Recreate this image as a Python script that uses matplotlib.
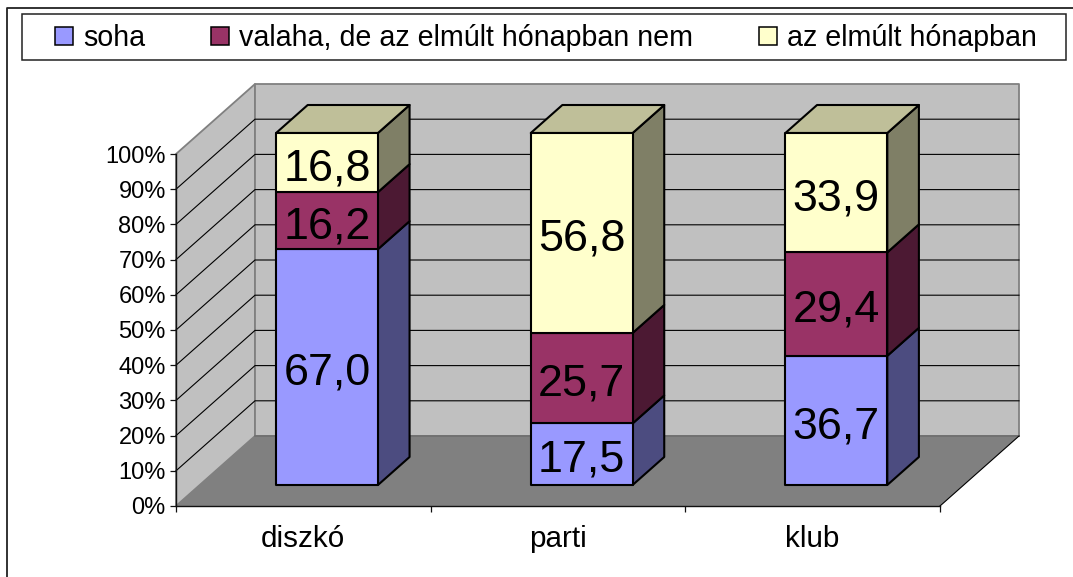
import numpy as np
import matplotlib
matplotlib.use('Agg')
import matplotlib.pyplot as plt
from matplotlib.lines import Line2D
from matplotlib.patches import Patch, Polygon, Rectangle

plt.rcParams['font.family'] = ['Liberation Sans', 'DejaVu Sans']

# data
categories = ['diszkó', 'parti', 'klub']
series_names = ['soha', 'valaha, de az elmúlt hónapban nem', 'az elmúlt hónapban']
soha = [67.0, 17.5, 36.7]
valaha = [16.2, 25.7, 29.4]
elmult = [16.8, 56.8, 33.9]
y_ticks = [0, 10, 20, 30, 40, 50, 60, 70, 80, 90, 100]

# colours: front, side, top
colors = ['#9999FF', '#993366', '#FFFFCC']
side_colors = ['#4C4C80', '#4C1933', '#7F7F66']
top_colors = ['#4C4C80', '#73264D', '#BFBF99']

W, H = 1073, 577
DEPTH_X = 79 / 254.67  # full chart depth, in category units
DEPTH_Y = 70 / 3.52    # full chart depth, in percent
BAR_HALF = 0.2
BAR_D0, BAR_D1 = 0.3, 0.7
WALL = '#C0C0C0'
EDGE = '#808080'


def proj(x, y, d):
    """shear a point (x, y) at depth d (0 front, 1 back) onto the plot plane"""
    return x + d * DEPTH_X, y + d * DEPTH_Y


def poly(ax, pts, **kw):
    p = Polygon([proj(*q) for q in pts], closed=True, clip_on=False, joinstyle='round', **kw)
    ax.add_patch(p)
    return p


fig = plt.figure(figsize=(W / 100, H / 100), dpi=100)
ax = fig.add_axes([176 / W, (H - 506) / H, 764 / W, 352 / H])
ax.set_xlim(0, 3)
ax.set_ylim(0, 100)
ax.patch.set_visible(False)

# walls and floor
poly(ax, [(0, 0, 0), (0, 100, 0), (0, 100, 1), (0, 0, 1)], facecolor=WALL, edgecolor=EDGE, linewidth=1.3, zorder=1)
poly(ax, [(0, 0, 1), (0, 100, 1), (3, 100, 1), (3, 0, 1)], facecolor=WALL, edgecolor=EDGE, linewidth=1.3, zorder=1)
poly(ax, [(0, 0, 0), (3, 0, 0), (3, 0, 1), (0, 0, 1)], facecolor='#808080', edgecolor='none', zorder=1.5)
ax.add_line(Line2D(*zip(proj(0, 0, 1), proj(3, 0, 1)), color='#6E6E6E', lw=1.2, clip_on=False, zorder=1.6))
ax.add_line(Line2D(*zip(proj(3, 0, 0), proj(3, 0, 1)), color='black', lw=0.8, clip_on=False, zorder=1.6))

# gridlines on the walls
for t in y_ticks[1:-1]:
    pts = [proj(0, t, 0), proj(0, t, 1), proj(3, t, 1)]
    ax.add_line(Line2D(*zip(*pts), color='black', lw=0.8, clip_on=False, zorder=1.4))

# stacked bars
stack = [soha, valaha, elmult]
for i, name in enumerate(categories):
    x0 = i + 0.5 - BAR_HALF
    x1 = i + 0.5 + BAR_HALF
    base = 0
    for k, vals in enumerate(stack):
        top = base + vals[i]
        kw = dict(edgecolor='black', linewidth=1.5, zorder=3 + k * 0.1)
        poly(ax, [(x1, base, BAR_D0), (x1, top, BAR_D0), (x1, top, BAR_D1), (x1, base, BAR_D1)],
             facecolor=side_colors[k], **kw)
        if k == len(stack) - 1:
            poly(ax, [(x0, top, BAR_D0), (x1, top, BAR_D0), (x1, top, BAR_D1), (x0, top, BAR_D1)],
                 facecolor=top_colors[k], **kw)
        poly(ax, [(x0, base, BAR_D0), (x1, base, BAR_D0), (x1, top, BAR_D0), (x0, top, BAR_D0)],
             facecolor=colors[k], **kw)
        lx, ly = proj(i + 0.5, base + vals[i] / 2, BAR_D0)
        # the labels sit a little below the middle of each segment
        ax.annotate(f'{vals[i]:.1f}'.replace('.', ','), (lx, ly), xytext=(0, -4.4),
                    textcoords='offset points', ha='center', va='center',
                    fontsize=32.3, color='black', zorder=4)
        base = top

# axes
for s in ['top', 'right']:
    ax.spines[s].set_visible(False)
for s in ['left', 'bottom']:
    ax.spines[s].set_linewidth(1.0)
    ax.spines[s].set_color('#111111')
    ax.spines[s].set_zorder(2)
ax.set_yticks(y_ticks)
ax.set_yticklabels([f'{t}%' for t in y_ticks], fontsize=17)
ax.tick_params(axis='y', length=4.3, width=0.9, pad=3, color='#111111')
ax.set_xticks([0, 1, 2, 3])
ax.set_xticklabels([])
ax.tick_params(axis='x', which='major', length=4.3, width=0.9, color='#111111')
ax.set_xticks([0.5, 1.5, 2.5], minor=True)
ax.set_xticklabels(categories, minor=True, fontsize=21.3)
ax.tick_params(axis='x', which='minor', length=0, pad=13.5)

# outer frame, cut by the image edges
fig.add_artist(Line2D([7 / W, 7 / W, 1], [0, 1 - 7.5 / H, 1 - 7.5 / H], color='#222222', lw=1.3))

# legend with its own box
fig.add_artist(Rectangle((22 / W, 1 - 60 / H), 1044 / W, 46.5 / H, facecolor='white',
                         edgecolor='#222222', linewidth=1.1, transform=fig.transFigure))
handles = [Patch(facecolor=c, edgecolor='black', linewidth=1.1) for c in colors]
fig.legend(handles, series_names, ncol=3, frameon=False, loc='center left',
           bbox_to_anchor=(55 / W, 1 - 38 / H), borderpad=0, borderaxespad=0,
           fontsize=20.6, handlelength=0.63, handleheight=0.63, handletextpad=0.35,
           columnspacing=2.31)

fig.savefig('out.png', dpi=100)
